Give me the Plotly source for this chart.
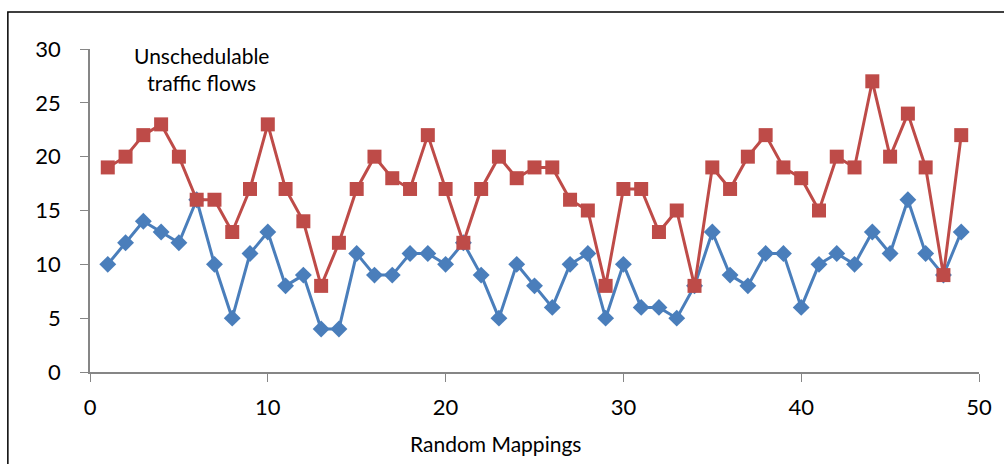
import plotly.graph_objects as go

mappings = list(range(1, 50))
series_red = [19, 20, 22, 23, 20, 16, 16, 13, 17, 23, 17, 14, 8, 12, 17, 20, 18, 17, 22, 17,
              12, 17, 20, 18, 19, 19, 16, 15, 8, 17, 17, 13, 15, 8, 19, 17, 20, 22, 19, 18,
              15, 20, 19, 27, 20, 24, 19, 9, 22]
series_blue = [10, 12, 14, 13, 12, 16, 10, 5, 11, 13, 8, 9, 4, 4, 11, 9, 9, 11, 11, 10,
               12, 9, 5, 10, 8, 6, 10, 11, 5, 10, 6, 6, 5, 8, 13, 9, 8, 11, 11, 6,
               10, 11, 10, 13, 11, 16, 11, 9, 13]
x_ticks = [0, 10, 20, 30, 40, 50]
y_ticks = [0, 5, 10, 15, 20, 25, 30]

FONT = "Lato"
fig = go.Figure()
fig.add_trace(go.Scatter(x=mappings, y=series_blue, mode="lines+markers",
                         line=dict(color="#4A7EBB", width=3),
                         marker=dict(symbol="diamond", size=13, color="#4A7EBB"),
                         showlegend=False))
fig.add_trace(go.Scatter(x=mappings, y=series_red, mode="lines+markers",
                         line=dict(color="#BE4B48", width=3),
                         marker=dict(symbol="square", size=14, color="#BE4B48"),
                         showlegend=False))

fig.update_layout(
    width=1004, height=464,
    margin=dict(l=90, r=16, t=49, b=92),
    paper_bgcolor="white", plot_bgcolor="white",
    font=dict(family=FONT, color="black"),
    xaxis=dict(range=[0, 50], tickvals=x_ticks, showgrid=False, zeroline=False,
               showline=True, linecolor="#868686", linewidth=1.5,
               ticks="outside", ticklen=8, tickcolor="#868686",
               ticklabelstandoff=7,
               tickfont=dict(size=22, family=FONT)),
    yaxis=dict(range=[0, 30], tickvals=y_ticks, showgrid=False, zeroline=False,
               showline=True, linecolor="#868686", linewidth=1.5,
               ticks="outside", ticklen=8, tickcolor="#868686",
               ticklabelstandoff=15,
               tickfont=dict(size=22, family=FONT)),
    annotations=[
        dict(text="Unschedulable<br>traffic flows", xref="x", yref="y",
             x=6.25, y=28.1, showarrow=False, align="center",
             font=dict(size=21, family=FONT)),
        dict(text="Random Mappings", xref="paper", yref="paper",
             x=0.4566, y=-0.22, yanchor="middle", showarrow=False,
             font=dict(size=21, family=FONT)),
    ],
    shapes=[dict(type="rect", xref="paper", yref="paper",
                 x0=-0.0924, x1=1.03, y0=-0.32, y1=1.1146,
                 line=dict(color="black", width=1.5))],
)
fig.write_html("out.html")
